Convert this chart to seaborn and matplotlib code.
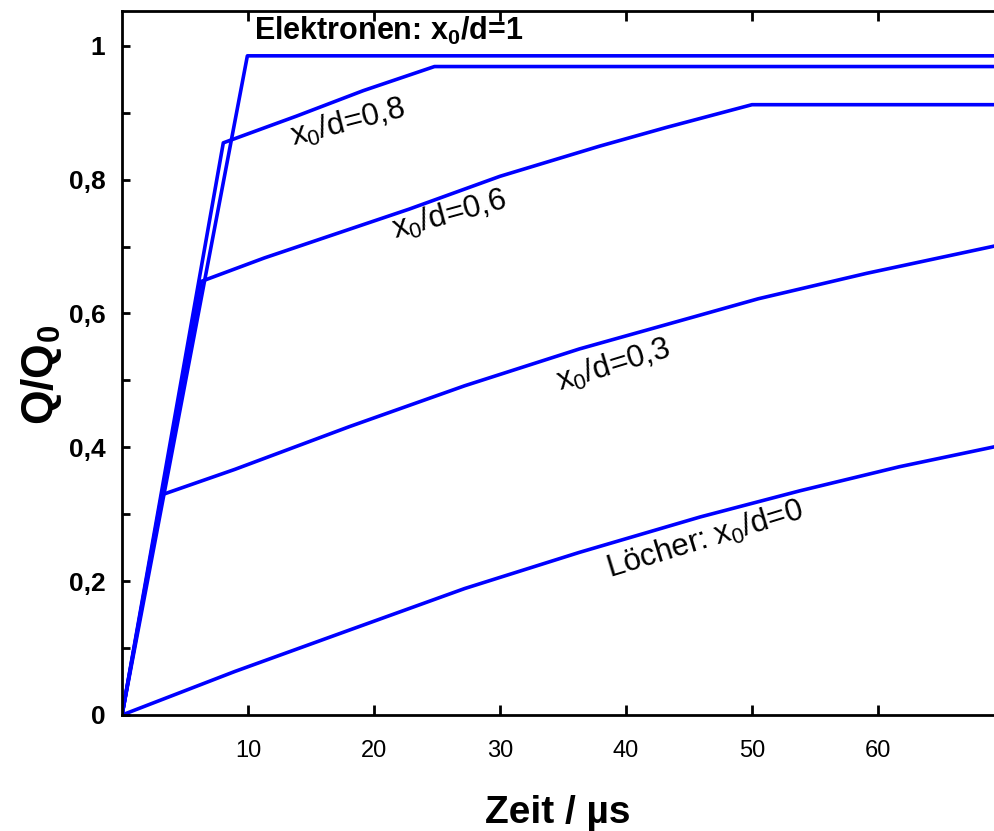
import numpy as np
import pandas as pd
import matplotlib
matplotlib.use("Agg")
import matplotlib.pyplot as plt
from matplotlib.ticker import MultipleLocator, FixedLocator, FixedFormatter
import seaborn as sns

# ---- data ----
t_holes = [0, 8.95, 18.06, 27.2, 36.3, 45.9, 53.8, 61.7, 69.3]
q_holes = [0, 0.065, 0.127, 0.189, 0.243, 0.296, 0.335, 0.371, 0.401]

t_03 = [0, 3.15, 8.95, 18.06, 27.2, 36.3, 45.4, 50.5, 59.1, 69.3]
q_03 = [0, 0.329, 0.367, 0.431, 0.492, 0.547, 0.595, 0.622, 0.660, 0.701]

t_06 = [0, 6.3, 11.3, 22.8, 30.0, 37.9, 43.2, 50.0, 69.3]
q_06 = [0, 0.648, 0.683, 0.756, 0.805, 0.850, 0.878, 0.912, 0.912]

t_08 = [0, 8.04, 13.86, 19.15, 24.8, 69.3]
q_08 = [0, 0.855, 0.895, 0.933, 0.969, 0.969]

t_10 = [0, 9.95, 69.3]
q_10 = [0, 0.985, 0.985]

curve_names = ["0", "0.3", "0.6", "0.8", "1"]
x_ticks = [10, 20, 30, 40, 50, 60]
x_ticklabels = ["10", "20", "30", "40", "50", "60"]
y_ticks = [0, 0.2, 0.4, 0.6, 0.8, 1.0]
y_ticklabels = ["0", "0,2", "0,4", "0,6", "0,8", "1"]

df = pd.concat([
    pd.DataFrame({"t": t, "q": q, "curve": n})
    for t, q, n in zip([t_holes, t_03, t_06, t_08, t_10],
                       [q_holes, q_03, q_06, q_08, q_10], curve_names)
], ignore_index=True)

# ---- style ----
sns.set_style("ticks")
plt.rcParams["font.family"] = ["Liberation Sans", "DejaVu Sans"]
plt.rcParams["mathtext.default"] = "regular"

W, H = 994, 831
fig = plt.figure(figsize=(W / 100, H / 100), dpi=100)
x0px, x_unit = 122, 12.6
ax = fig.add_axes([x0px / W, 1 - 715 / H, (70 * x_unit) / W, (715 - 11) / H])

blue = "#0000ff"
sns.lineplot(data=df, x="t", y="q", hue="curve", palette=[blue] * 5,
             sort=False, estimator=None, legend=False, linewidth=2.6, ax=ax)

ax.set_xlim(0, 70)
ax.set_ylim(0, 1.052)
ax.set_xlabel("")
ax.set_ylabel("")

for s in ["left", "bottom", "top"]:
    ax.spines[s].set_linewidth(2.0)
    ax.spines[s].set_color("black")
ax.spines["right"].set_visible(False)

ax.xaxis.set_major_locator(FixedLocator(x_ticks))
ax.xaxis.set_major_formatter(FixedFormatter(x_ticklabels))
ax.yaxis.set_major_locator(FixedLocator(y_ticks))
ax.yaxis.set_major_formatter(FixedFormatter(y_ticklabels))
ax.yaxis.set_minor_locator(MultipleLocator(0.1))

ax.tick_params(axis="x", which="major", direction="in", top=True, bottom=True,
               length=7, width=2, pad=18, labelsize=17, colors="black")
ax.tick_params(axis="y", which="both", direction="in", left=True, right=False,
               length=6, width=2, pad=12, labelsize=19, colors="black")
for lab in ax.get_yticklabels():
    lab.set_fontweight("bold")

# ---- annotations ----
ax.text(10.5, 1.009, "Elektronen: x$_0$/d=1", ha="left", va="baseline",
        fontsize=22, fontweight="bold", color="black")
ax.text(17.9, 0.885, "x$_0$/d=0,8", rotation=14.4, rotation_mode="anchor",
        ha="center", va="center", fontsize=22.5, color="black")
ax.text(26.0, 0.747, "x$_0$/d=0,6", rotation=15.3, rotation_mode="anchor",
        ha="center", va="center", fontsize=22.5, color="black")
ax.text(38.97, 0.522, "x$_0$/d=0,3", rotation=17, rotation_mode="anchor",
        ha="center", va="center", fontsize=22.5, color="black")
ax.text(46.3, 0.262, "Löcher: x$_0$/d=0", rotation=17, rotation_mode="anchor",
        ha="center", va="center", fontsize=22.5, color="black")

fig.text(42 / W, 1 - 375 / H, "Q/Q$_0$", rotation=90, ha="center", va="center",
         fontsize=32, fontweight="bold", color="black")
fig.text(558 / W, 1 - 823 / H, "Zeit / µs", ha="center", va="baseline",
         fontsize=28, fontweight="bold", color="black")

fig.savefig("out.png", dpi=100)
